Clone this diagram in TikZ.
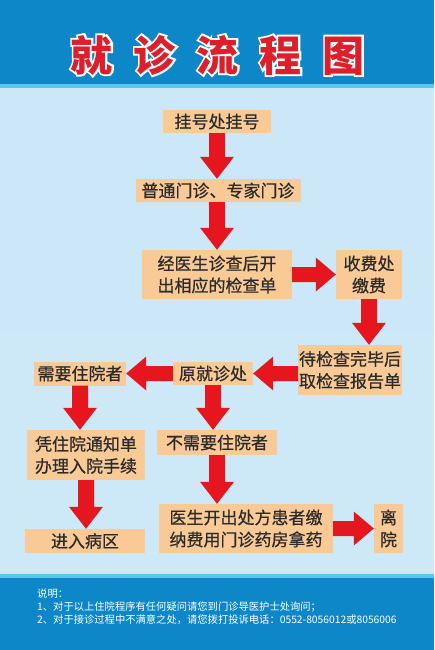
\documentclass[tikz,border=0pt]{standalone}
\usepackage{fontspec}
\newfontfamily\cjk{Noto Sans CJK SC}[UprightFeatures={FakeBold=0.6}]
\newfontfamily\cjkplain{Noto Sans CJK SC}
\newfontfamily\cjkfat{Noto Sans CJK SC}[UprightFeatures={FakeBold=9}, BoldFeatures={FakeBold=9}]
\usetikzlibrary{calc}
\definecolor{bandblue}{HTML}{0D87C8}
\definecolor{stripe}{HTML}{58C6F0}
\definecolor{bgtop}{HTML}{CCE8F8}
\definecolor{bgmid}{HTML}{F1F9FE}
\definecolor{bgbot}{HTML}{CDE9F8}
\definecolor{boxc}{HTML}{FACA96}
\definecolor{txt}{HTML}{2B2B2B}
\definecolor{arrc}{HTML}{E6161E}
\definecolor{titler}{HTML}{DD1F2C}
\newcommand\ArrDown[2]{\fill[arr] let \p1=(#1), \p2=(#2) in
  (\x1-8pt,\y1) -- (\x1+8pt,\y1) -- (\x1+8pt,\y2+22pt) -- (\x1+17pt,\y2+22pt)
  -- (\x1,\y2) -- (\x1-17pt,\y2+22pt) -- (\x1-8pt,\y2+22pt) -- cycle;}
\newcommand\ArrRight[2]{\fill[arr] let \p1=(#1), \p2=(#2) in
  (\x1,\y2+7.5pt) -- (\x2-20pt,\y2+7.5pt) -- (\x2-20pt,\y2+17pt) -- (\x2,\y2)
  -- (\x2-20pt,\y2-17pt) -- (\x2-20pt,\y2-7.5pt) -- (\x1,\y2-7.5pt) -- cycle;}
\newcommand\ArrLeft[2]{\fill[arr] let \p1=(#1), \p2=(#2) in
  (\x1,\y2+7.5pt) -- (\x2+20pt,\y2+7.5pt) -- (\x2+20pt,\y2+17pt) -- (\x2,\y2)
  -- (\x2+20pt,\y2-17pt) -- (\x2+20pt,\y2-7.5pt) -- (\x1,\y2-7.5pt) -- cycle;}
\newcommand\TitleText{就\hspace{21pt}诊\hspace{21pt}流\hspace{21pt}程\hspace{21pt}图}
\begin{document}
\begin{tikzpicture}[x=1pt,y=-1pt,
  box/.style={fill=boxc, inner sep=0pt, text=txt, align=center,
    font=\cjk\fontsize{17}{22}\selectfont},
  arr/.style={fill=arrc},
  titlef/.style={inner sep=0pt, font=\cjkplain\bfseries\fontsize{42}{42}\selectfont},
  titleo/.style={inner sep=0pt, font=\cjkfat\bfseries\fontsize{42}{42}\selectfont},
  foot/.style={inner sep=0pt, anchor=west, text=white,
    font=\cjkplain\fontsize{10.3}{13}\selectfont}]
\useasboundingbox (0,0) rectangle (434,650);
% background
\fill[bandblue] (0,0) rectangle (434,650);
\fill[stripe] (0,84) rectangle (434,89);
\shade[top color=bgtop, middle color=bgmid, bottom color=bgbot] (0,89) rectangle (434,574);
\fill[stripe] (0,574) rectangle (434,578);
% title
\node[titleo, text=white] (titleout) at (217.5,55) {\TitleText};
\node[titlef, text=titler] (title) at (217.5,55) {\TitleText};
% boxes
\node[box, minimum width=108, minimum height=23] (n1) at (217,121.5) {挂号处挂号};
\node[box, minimum width=165, minimum height=23] (n2) at (218,190.5) {普通门诊、专家门诊};
\node[box, minimum width=150, minimum height=49] (n3) at (217,274.5) {经医生诊查后开\\出相应的检查单};
\node[box, minimum width=66, minimum height=49] (n4) at (369,274.5) {收费处\\缴费};
\node[box, minimum width=104, minimum height=50] (n5) at (350,370) {待检查完毕后\\取检查报告单};
\node[box, minimum width=80, minimum height=23] (n6) at (213,373.5) {原就诊处};
\node[box, minimum width=92, minimum height=24] (n7) at (80,373.5) {需要住院者};
\node[box, minimum width=118, minimum height=50] (n8) at (86,455) {凭住院通知单\\办理入院手续};
\node[box, minimum width=120, minimum height=25] (n9) at (217,442.5) {不需要住院者};
\node[box, minimum width=120, minimum height=24] (n10) at (85,541) {进入病区};
\node[box, minimum width=174, minimum height=49] (n11) at (246,528.5) {医生开出处方患者缴\\纳费用门诊药房拿药};
\node[box, minimum width=29, minimum height=49] (n12) at (388.5,528.5) {离\\院};
% arrows
\ArrDown{n1.south}{n2.north}
\ArrDown{n2.south -| n3.north}{n3.north}
\ArrRight{n3.east}{n4.west}
\ArrDown{n4.south}{n5.north}
\ArrLeft{n5.west}{n6.east}
\ArrLeft{n6.west}{n7.east}
\ArrDown{n7.south}{n8.north}
\ArrDown{n6.south}{n9.north}
\ArrDown{n8.south}{n10.north}
\ArrDown{n9.south}{n11.north}
\ArrRight{n11.east}{n12.west}
% footer
\node[foot] (f0) at (37,594) {说明：};
\node[foot] (f1) at (37,607) {1、对于以上住院程序有任何疑问请您到门诊导医护士处询问；};
\node[foot] (f2) at (37,620) {2、对于接诊过程中不满意之处，请您拨打投诉电话：0552-8056012或8056006};
\end{tikzpicture}
\end{document}
